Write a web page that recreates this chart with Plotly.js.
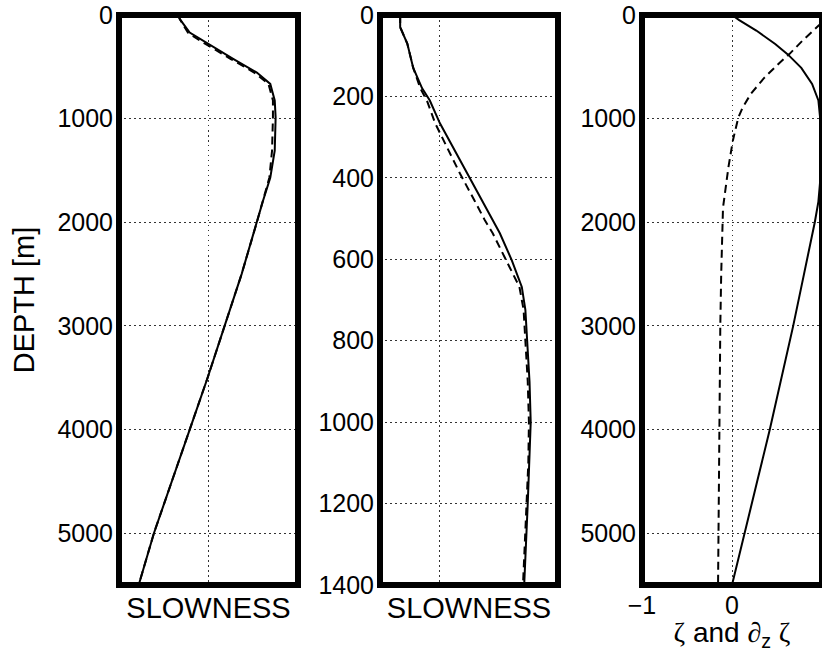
<!DOCTYPE html>
<html>
<head>
<meta charset="utf-8">
<script src="https://cdn.plot.ly/plotly-3.0.1.min.js"></script>
<style>html,body{margin:0;padding:0;background:#fff;}</style>
</head>
<body>
<div id="chart" style="width:822px;height:652px;"></div>
<script>
// ---- Panel 1: slowness vs depth (0-5500 m) ----
const depth1 = [0, 40, 170, 250, 425, 555, 665, 825, 990, 1310, 1570, 1790, 2000, 2500, 3000, 3500, 4000, 4500, 5000, 5500];
const slow1Solid = [0.66, 0.68, 0.79, 0.94, 1.28, 1.54, 1.69, 1.74, 1.75, 1.74, 1.69, 1.61, 1.54, 1.37, 1.18, 0.99, 0.79, 0.59, 0.39, 0.22];
const slow1Dashed = [0.66, 0.68, 0.77, 0.91, 1.25, 1.51, 1.67, 1.72, 1.72, 1.71, 1.68, 1.61, 1.54, 1.37, 1.18, 0.99, 0.79, 0.59, 0.39, 0.22];

// ---- Panel 2: slowness vs depth (0-1400 m) ----
const depth2 = [0, 30, 70, 130, 180, 210, 266, 325, 390, 455, 505, 536, 602, 668, 724, 800, 900, 1000, 1100, 1200, 1300, 1400];
const slow2Solid = [0.34, 0.34, 0.46, 0.56, 0.71, 0.84, 1.01, 1.23, 1.47, 1.72, 1.90, 2.02, 2.22, 2.39, 2.45, 2.48, 2.52, 2.54, 2.52, 2.49, 2.46, 2.43];
const slow2Dashed = [0.34, 0.34, 0.46, 0.56, 0.68, 0.79, 0.93, 1.13, 1.35, 1.59, 1.77, 1.90, 2.13, 2.35, 2.42, 2.45, 2.49, 2.51, 2.50, 2.47, 2.44, 2.41];

// ---- Panel 3: zeta and d/dz zeta ----
const depth3a = [0, 50, 150, 280, 380, 510, 665, 825, 1000, 1200, 1400, 1600, 1800, 2000, 2200, 2500, 3000, 3500, 4000, 4500, 5000, 5500];
const zeta = [0.0, 0.08, 0.27, 0.48, 0.62, 0.77, 0.89, 0.96, 0.98, 1.0, 1.0, 0.98, 0.96, 0.92, 0.87, 0.80, 0.68, 0.55, 0.42, 0.28, 0.14, 0.0];
const depth3b = [0, 104, 250, 375, 460, 605, 760, 890, 990, 1210, 1470, 1860, 2500, 3000, 4000, 5000, 5500];
const dzZeta = [1.1, 0.96, 0.78, 0.64, 0.53, 0.36, 0.21, 0.12, 0.07, 0.01, -0.04, -0.10, -0.12, -0.13, -0.14, -0.15, -0.155];

const depthTicks1 = [0, 1000, 2000, 3000, 4000, 5000];
const depthTicks2 = [0, 200, 400, 600, 800, 1000, 1200, 1400];
const zetaTicks = [-1, 0, 1];

const FONT = "Liberation Sans, Arial, Helvetica, sans-serif";
const SERIF = "Liberation Serif, Times New Roman, serif";
const solid = {color: '#000', width: 2};
const dashed = {color: '#000', width: 2, dash: '8px,5px'};

const traces = [
  {x: slow1Dashed, y: depth1, xaxis: 'x', yaxis: 'y', mode: 'lines', line: dashed},
  {x: slow1Solid, y: depth1, xaxis: 'x', yaxis: 'y', mode: 'lines', line: solid},
  {x: slow2Dashed, y: depth2, xaxis: 'x2', yaxis: 'y2', mode: 'lines', line: dashed},
  {x: slow2Solid, y: depth2, xaxis: 'x2', yaxis: 'y2', mode: 'lines', line: solid},
  {x: dzZeta, y: depth3b, xaxis: 'x3', yaxis: 'y3', mode: 'lines', line: dashed},
  {x: zeta, y: depth3a, xaxis: 'x3', yaxis: 'y3', mode: 'lines', line: solid}
];

const grid = {showgrid: true, gridcolor: '#333', gridwidth: 1, griddash: '1.5px,3.5px',
  zeroline: false, showline: false, ticks: '', tickfont: {family: FONT, size: 25, color: '#000'}};

const W = 822;
function xAx(d0, d1, extra) { return Object.assign({}, grid, {domain: [d0 / W, d1 / W]}, extra); }
function yAx(anchor, range, tickvals, extra) {
  return Object.assign({}, grid, {anchor: anchor, range: range, tickmode: 'array', tickvals: tickvals, ticklabelstandoff: 5}, extra);
}
const titleFont = {family: FONT, size: 29, color: '#000'};

const layout = {
  width: 822, height: 652,
  margin: {l: 0, r: 0, t: 15, b: 67},
  paper_bgcolor: '#fff', plot_bgcolor: '#fff',
  showlegend: false,
  font: {family: FONT, color: '#000'},
  xaxis: xAx(119, 298, {anchor: 'y', range: [0, 2], tickmode: 'array', tickvals: [1], showticklabels: false,
    title: {text: 'SLOWNESS', font: titleFont, standoff: 12}}),
  yaxis: yAx('x', [5500, 0], depthTicks1, {title: {text: 'DEPTH [m]', font: titleFont, standoff: 14}}),
  xaxis2: xAx(380, 558, {anchor: 'y2', range: [0, 3], tickmode: 'array', tickvals: [1], showticklabels: false,
    title: {text: 'SLOWNESS', font: titleFont, standoff: 12}}),
  yaxis2: yAx('x2', [1400, 0], depthTicks2, {}),
  xaxis3: xAx(642, 822, {anchor: 'y3', range: [-1, 1], tickmode: 'array', tickvals: zetaTicks, ticklabelstandoff: 3,
    title: {text: '<span style="font-family:' + SERIF + '">ζ</span> and <span style="font-family:' + SERIF + '">∂</span><sub>z</sub> <span style="font-family:' + SERIF + '">ζ</span>',
      font: {family: FONT, size: 28, color: '#000'}, standoff: 0}}),
  yaxis3: yAx('x3', [5500, 0], depthTicks1, {}),
  shapes: [
    {type: 'rect', xref: 'x domain', yref: 'y domain', x0: 0, x1: 1, y0: 0, y1: 1, line: {color: '#000', width: 6}, layer: 'above'},
    {type: 'rect', xref: 'x2 domain', yref: 'y2 domain', x0: 0, x1: 1, y0: 0, y1: 1, line: {color: '#000', width: 6}, layer: 'above'},
    {type: 'rect', xref: 'x3 domain', yref: 'y3 domain', x0: 0, x1: 1, y0: 0, y1: 1, line: {color: '#000', width: 6}, layer: 'above'}
  ]
};

Plotly.newPlot('chart', traces, layout, {staticPlot: true, displayModeBar: false});
</script>
</body>
</html>
